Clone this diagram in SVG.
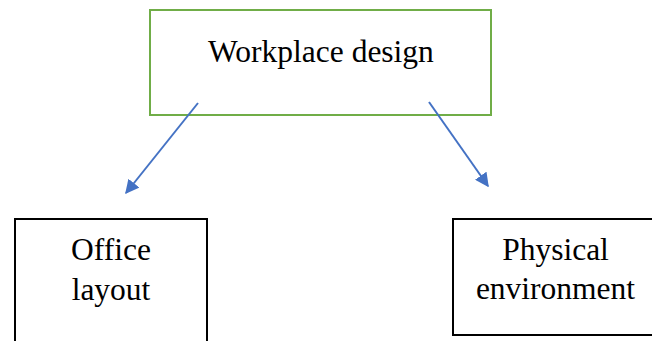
<svg xmlns="http://www.w3.org/2000/svg" width="652" height="341" viewBox="0 0 652 341">
  <style>
    .lbl { font-family: "Liberation Serif", "Times New Roman", serif; font-size: 31.5px; fill: #000; text-anchor: middle; }
    .box { fill: #fff; stroke: #000; stroke-width: 2; }
    .top { fill: #fff; stroke: #70AD47; stroke-width: 2; }
    .link { stroke: #4472C4; stroke-width: 2; fill: none; marker-end: url(#head); }
  </style>
  <defs>
    <marker id="head" viewBox="0 0 10 10" refX="9" refY="5" markerWidth="7" markerHeight="7" markerUnits="strokeWidth" orient="auto">
      <path d="M0,0 L10,5 L0,10 z" fill="#4472C4"/>
    </marker>
  </defs>
  <rect width="652" height="341" fill="#fff"/>
  <g id="workplace-design">
    <rect class="top" x="150" y="10" width="341" height="105"/>
    <text class="lbl" x="321" y="62">Workplace design</text>
  </g>
  <g id="office-layout">
    <rect class="box" x="15" y="219" width="192" height="140"/>
    <text class="lbl" x="111" y="260">Office</text>
    <text class="lbl" x="111" y="300">layout</text>
  </g>
  <g id="physical-environment">
    <rect class="box" x="453" y="219" width="210" height="116"/>
    <text class="lbl" x="555.5" y="260">Physical</text>
    <text class="lbl" x="555.5" y="299">environment</text>
  </g>
  <g id="connectors">
    <line class="link" x1="198" y1="103" x2="126" y2="193"/>
    <line class="link" x1="429" y1="102" x2="488" y2="186"/>
  </g>
</svg>
